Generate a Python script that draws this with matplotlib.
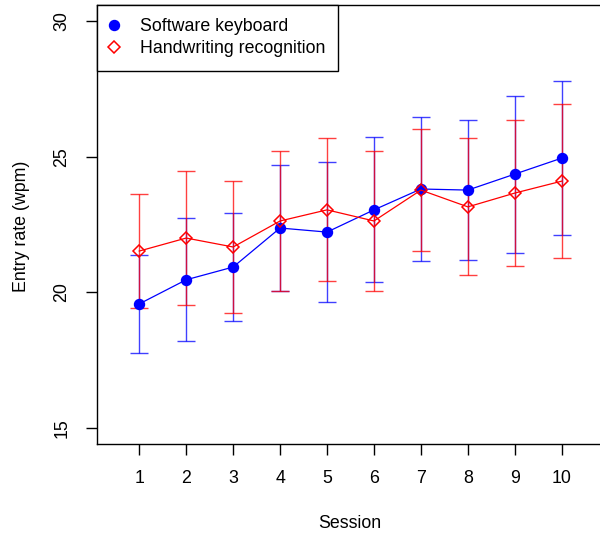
import matplotlib
matplotlib.use("Agg")
import matplotlib.pyplot as plt
from matplotlib.lines import Line2D

plt.rcParams['font.family'] = ['Liberation Sans', 'DejaVu Sans']

# Dados
sessions = [1, 2, 3, 4, 5, 6, 7, 8, 9, 10]
keyboard_mean = [19.57, 20.46, 20.93, 22.37, 22.22, 23.04, 23.81, 23.77, 24.36, 24.95]
keyboard_err = [1.81, 2.27, 2.00, 2.33, 2.58, 2.68, 2.67, 2.58, 2.90, 2.85]
handwriting_mean = [21.52, 22.00, 21.67, 22.63, 23.04, 22.63, 23.77, 23.15, 23.66, 24.10]
handwriting_err = [2.11, 2.46, 2.45, 2.60, 2.64, 2.58, 2.26, 2.53, 2.68, 2.84]

fs = 12.8

fig = plt.figure(figsize=(6, 5.33), dpi=100)
# eixo um pouco mais largo que a figura (margem direita cortada)
ax = fig.add_axes([97/600, (533-444)/533, 507/600, 439/533])

# barras de erro
ax.errorbar(sessions, keyboard_mean, yerr=keyboard_err, fmt='none',
            ecolor='blue', elinewidth=1, capsize=6.5, capthick=1, alpha=0.75, zorder=2)
ax.errorbar(sessions, handwriting_mean, yerr=handwriting_err, fmt='none',
            ecolor='red', elinewidth=1, capsize=6.5, capthick=1, alpha=0.75, zorder=2)

# linhas e marcadores
ax.plot(sessions, keyboard_mean, color='blue', lw=0.9, marker='o', ms=7.2,
        mfc='blue', mec='blue', zorder=3)
ax.plot(sessions, handwriting_mean, color='red', lw=0.9, marker='D', ms=5.8,
        mfc='none', mec='red', mew=1.1, zorder=4)

ax.set_xlim(0.1, 10.9)
ax.set_ylim(14.4, 30.6)
ax.set_xticks(sessions)
ax.set_yticks([15, 20, 25, 30])
ax.tick_params(axis='both', direction='out', length=8, width=1, labelsize=fs, pad=11)
for lab in ax.get_yticklabels():
    lab.set_rotation(90)
    lab.set_va('center')

for s in ax.spines.values():
    s.set_linewidth(1)

fig.text(21/600, 1 - 226/533, 'Entry rate (wpm)', rotation=90, ha='center', va='center', fontsize=fs)
fig.text(350/600, 1 - 523/533, 'Session', ha='center', va='center', fontsize=fs)

handles = [Line2D([], [], ls='none', marker='o', color='blue', ms=7.2),
           Line2D([], [], ls='none', marker='D', mfc='none', mec='red', ms=5.8, mew=1.1)]
leg = ax.legend(handles, ['Software keyboard', 'Handwriting recognition'],
                loc='upper left', bbox_to_anchor=(0, 1), borderaxespad=0,
                fontsize=fs, fancybox=False, framealpha=1, edgecolor='black',
                handlelength=0.45, handletextpad=1.2, borderpad=0.75, labelspacing=0.28)
leg.get_frame().set_linewidth(1)

fig.savefig('out.png', dpi=100)
